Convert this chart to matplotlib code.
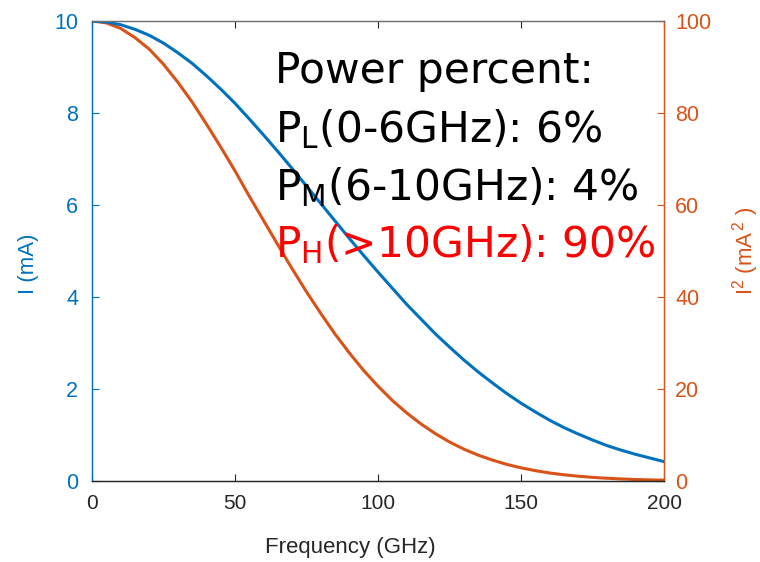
import matplotlib
matplotlib.use("Agg")
import matplotlib.pyplot as plt

plt.rcParams['font.family'] = ['Liberation Sans', 'DejaVu Sans']
plt.rcParams['mathtext.fontset'] = 'custom'
plt.rcParams['mathtext.rm'] = 'Liberation Sans'
plt.rcParams['mathtext.it'] = 'Liberation Sans'

freq = [0, 5, 10, 15, 20, 25, 30, 35, 40, 45, 50, 55, 60, 65, 70, 75, 80, 85, 90, 95,
        100, 105, 110, 115, 120, 125, 130, 135, 140, 145, 150, 155, 160, 165, 170, 175,
        180, 185, 190, 195, 200]
current_mA = [10.0, 9.98, 9.92, 9.82, 9.69, 9.52, 9.31, 9.08, 8.81, 8.52, 8.21, 7.87,
              7.52, 7.16, 6.79, 6.41, 6.03, 5.65, 5.27, 4.90, 4.54, 4.19, 3.84, 3.52,
              3.20, 2.91, 2.63, 2.37, 2.13, 1.90, 1.69, 1.50, 1.32, 1.16, 1.02, 0.89,
              0.77, 0.67, 0.58, 0.50, 0.42]
current_sq = [100.0, 99.6, 98.4, 96.4, 93.9, 90.6, 86.7, 82.4, 77.6, 72.6, 67.4, 61.9,
              56.6, 51.3, 46.1, 41.1, 36.4, 31.9, 27.8, 24.0, 20.6, 17.5, 14.8, 12.4,
              10.3, 8.47, 6.92, 5.62, 4.54, 3.61, 2.86, 2.25, 1.74, 1.35, 1.04, 0.79,
              0.60, 0.45, 0.33, 0.25, 0.18]
x_ticks = [0, 50, 100, 150, 200]
left_ticks = [0, 2, 4, 6, 8, 10]
right_ticks = [0, 20, 40, 60, 80, 100]

BLUE = '#0072BD'
ORANGE = '#D95319'
TXT = '#262626'

fig = plt.figure(figsize=(7.6, 5.62), dpi=100)
ax = fig.add_axes([0.121, 0.1441, 0.753, 0.8185])
ax2 = ax.twinx()

ax.plot(freq, current_mA, color=BLUE, lw=2.2, zorder=2)
ax2.plot(freq, current_sq, color=ORANGE, lw=2.2, zorder=2)

ax.set_xlim(0, 200)
ax.set_ylim(0, 10)
ax2.set_ylim(0, 100)
ax.set_xticks(x_ticks)
ax.set_yticks(left_ticks)
ax2.set_yticks(right_ticks)

ax.tick_params(axis='x', direction='in', length=5, width=0.8, colors=TXT,
               labelsize=15, top=True, pad=9)
ax.tick_params(axis='y', direction='in', length=5, width=0.8, colors=BLUE,
               labelsize=15.5, pad=10)
ax2.tick_params(axis='y', direction='in', length=5, width=0.8, colors=ORANGE,
                labelsize=15.5, pad=8)

for a in (ax, ax2):
    a.spines['left'].set_color(BLUE)
    a.spines['right'].set_color(ORANGE)
    a.spines['bottom'].set_color(TXT)
    a.spines['top'].set_color('#707070')
    for s in a.spines.values():
        s.set_linewidth(0.9)

ax.set_xlabel('Frequency (GHz)', fontsize=16, color=TXT)
ax.xaxis.set_label_coords(0.451, -0.122)
ax.set_ylabel('I (mA)', fontsize=16, color=BLUE)
ax.yaxis.set_label_coords(-0.093, 0.472)
ax2.set_ylabel(r'I$^{2}$ (mA$^{\,2}$ )', fontsize=16, color=ORANGE)
ax2.yaxis.set_label_coords(1.115, 0.5)

fs = 30.5
kw = dict(fontsize=fs, family=['DejaVu Sans'], math_fontfamily='dejavusans', zorder=5)
ax.text(64, 8.65, 'Power percent:', color='black', **kw)
ax.text(64, 7.37, r'P$_{\mathrm{L}}$(0-6GHz): 6%', color='black', **kw)
ax.text(64, 6.11, r'P$_{\mathrm{M}}$(6-10GHz): 4%', color='black', **kw)
ax.text(64, 4.87, r'P$_{\mathrm{H}}$(>10GHz): 90%', color='red', **kw)

ax.set_zorder(ax2.get_zorder() + 1)
ax.patch.set_visible(False)

fig.savefig('out.png', dpi=100)
